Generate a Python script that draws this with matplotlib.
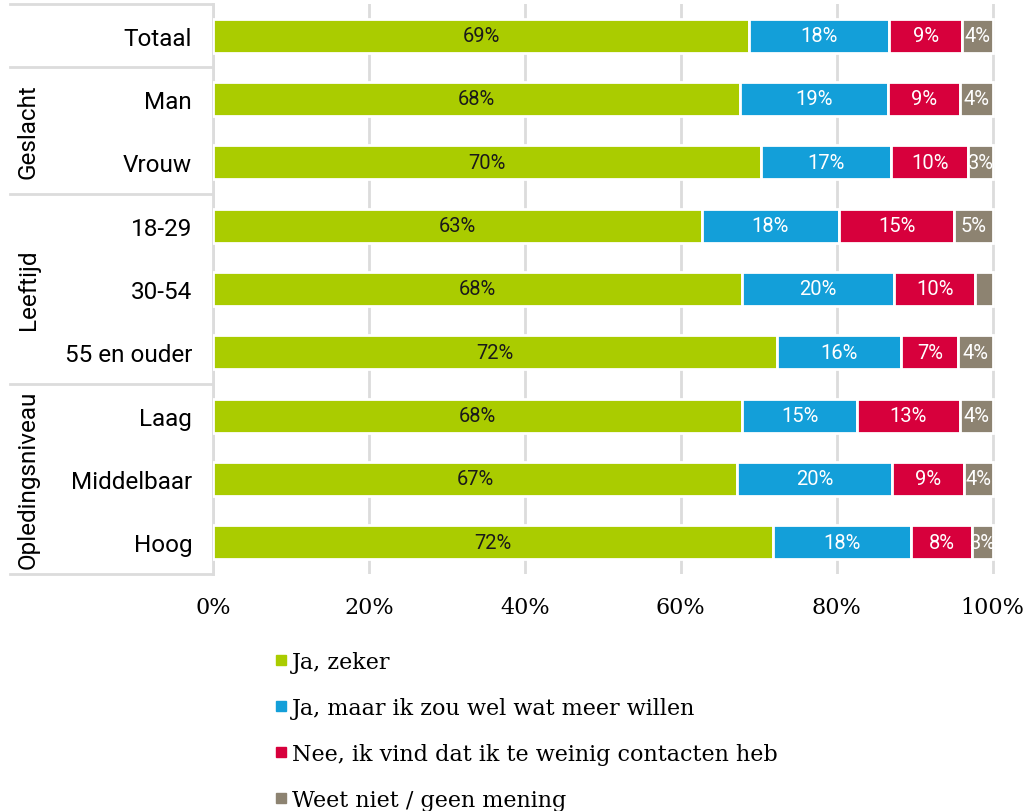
import matplotlib
matplotlib.use("Agg")
import matplotlib.pyplot as plt
import matplotlib.transforms as mtransforms
from matplotlib.lines import Line2D
import numpy as np

# Data
categories = ["Totaal", "Man", "Vrouw", "18-29", "30-54", "55 en ouder",
              "Laag", "Middelbaar", "Hoog"]
ja_zeker = [68.8, 67.6, 70.3, 62.7, 67.8, 72.4, 67.9, 67.2, 71.8]
ja_meer = [17.9, 19.0, 16.7, 17.6, 19.6, 15.9, 14.7, 19.9, 17.7]
nee_weinig = [9.4, 9.2, 9.9, 14.8, 10.3, 7.3, 13.2, 9.2, 7.9]
weet_niet = [3.9, 4.2, 3.1, 4.9, 2.3, 4.4, 4.2, 3.7, 2.6]

series_names = ["Ja, zeker", "Ja, maar ik zou wel wat meer willen",
                "Nee, ik vind dat ik te weinig contacten heb",
                "Weet niet / geen mening"]
series_colors = ["#aacc00", "#139fd9", "#d7003c", "#8d8371"]
text_colors = ["#1a1a1a", "white", "white", "white"]

groups = [("Geslacht", 1, 2), ("Leeftijd", 3, 5), ("Opledingsniveau", 6, 8)]
separators = [-0.5, 0.5, 2.5, 5.5, 8.5]
xticks = [0, 20, 40, 60, 80, 100]

sans = "Roboto"
serif = "DejaVu Serif"

fig = plt.figure(figsize=(10.3, 8.12), dpi=100)
W, H = 1030, 812
ax = fig.add_axes([213 / W, 1 - 575 / H, 782 / W, 570 / H])

y = np.arange(len(categories))
left = np.zeros(len(categories))
all_series = [ja_zeker, ja_meer, nee_weinig, weet_niet]
for vals, col, tcol in zip(all_series, series_colors, text_colors):
    bars = ax.barh(y, vals, left=left, height=0.54, color=col,
                   edgecolor="white", linewidth=2, zorder=3)
    for bar, v, l, yy in zip(bars, vals, left, y):
        if round(v) >= 3:
            t = ax.text(l + v / 2, yy, f"{round(v)}%", ha="center", va="center",
                        color=tcol, fontsize=14.5, family=sans, zorder=4)
            t.set_clip_path(bar)
    left = left + np.array(vals)

ax.set_xlim(0, 100.3)
ax.set_ylim(len(categories) - 0.5, -0.5)
ax.set_xticks(xticks)
ax.set_xticklabels([f"{t}%" for t in xticks], family=serif, fontsize=16)
ax.set_yticks(y)
ax.set_yticklabels(categories, family=sans, fontsize=17.5)
ax.tick_params(axis="both", length=0)
ax.tick_params(axis="x", pad=16)
ax.tick_params(axis="y", pad=15)
ax.xaxis.grid(True, color="#dcdcdc", linewidth=2, zorder=0)
ax.set_axisbelow(True)
for s in ["top", "right", "bottom"]:
    ax.spines[s].set_visible(False)
ax.spines["left"].set_color("#dcdcdc")
ax.spines["left"].set_linewidth(2)

# Left group frame
trans = mtransforms.blended_transform_factory(ax.transAxes, ax.transData)
x0 = (10 - 213) / 782
for s in separators:
    ax.add_line(Line2D([x0, 0], [s, s], transform=trans, color="#dcdcdc",
                       linewidth=2, clip_on=False))
for name, a, b in groups:
    ax.text((28 - 213) / 782, (a + b) / 2, name, transform=trans, rotation=90,
            ha="center", va="center", fontsize=17.5, family=sans)

# Legend
handles = [Line2D([], [], marker="s", linestyle="none", markersize=7,
                  markerfacecolor=c, markeredgecolor=c) for c in series_colors]
fig.legend(handles, series_names, loc="upper left",
           bbox_to_anchor=(263 / W, 1 - 641 / H), frameon=False,
           prop={"family": serif, "size": 16}, handlelength=0.6,
           handletextpad=0.2, labelspacing=1.08, borderpad=0)

fig.savefig("out.png", dpi=100)
